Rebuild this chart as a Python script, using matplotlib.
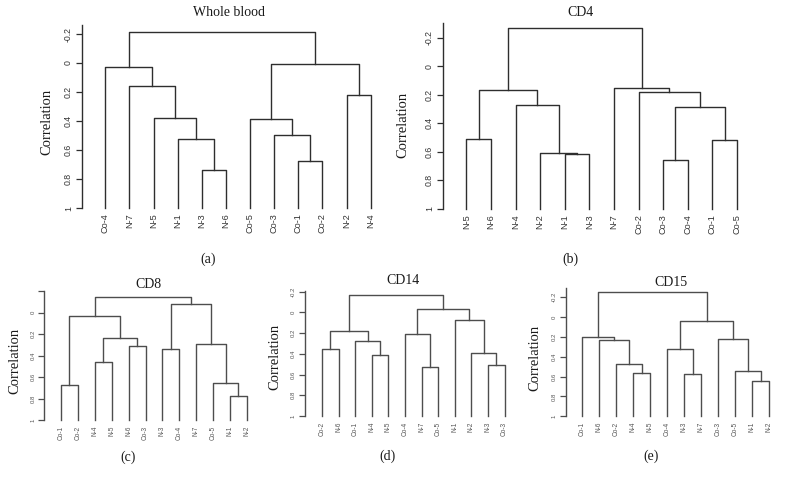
import matplotlib
matplotlib.use("Agg")
import matplotlib.pyplot as plt

plt.rcParams['axes.unicode_minus'] = False

# ---- data: leaf order, merges (leaf name or index of earlier merge), merge heights
wb_leaves = ["Co-4", "N-7", "N-5", "N-1", "N-3", "N-6", "Co-5", "Co-3", "Co-1", "Co-2", "N-2", "N-4"]
wb_merges = [("N-3", "N-6"), ("N-1", 0), ("N-5", 1), ("N-7", 2), ("Co-4", 3),
             ("Co-1", "Co-2"), ("Co-3", 5), ("Co-5", 6), ("N-2", "N-4"), (7, 8), (4, 9)]
wb_heights = [0.738, 0.526, 0.379, 0.159, 0.028, 0.676, 0.497, 0.386, 0.223, 0.005, -0.216]

cd4_leaves = ["N-5", "N-6", "N-4", "N-2", "N-1", "N-3", "N-7", "Co-2", "Co-3", "Co-4", "Co-1", "Co-5"]
cd4_merges = [("N-5", "N-6"), ("N-1", "N-3"), ("N-2", 1), ("N-4", 2), (0, 3),
              ("Co-3", "Co-4"), ("Co-1", "Co-5"), (5, 6), ("Co-2", 7), ("N-7", 8), (4, 9)]
cd4_heights = [0.509, 0.615, 0.608, 0.270, 0.164, 0.660, 0.519, 0.286, 0.183, 0.150, -0.265]

cd8_leaves = ["Co-1", "Co-2", "N-4", "N-5", "N-6", "Co-3", "N-3", "Co-4", "N-7", "Co-5", "N-1", "N-2"]
cd8_merges = [("Co-1", "Co-2"), ("N-4", "N-5"), ("N-6", "Co-3"), (1, 2), (0, 3),
              ("N-3", "Co-4"), ("N-1", "N-2"), ("Co-5", 6), ("N-7", 7), (5, 8), (4, 9)]
cd8_heights = [0.674, 0.463, 0.314, 0.239, 0.034, 0.342, 0.780, 0.658, 0.292, -0.078, -0.149]

cd14_leaves = ["Co-2", "N-6", "Co-1", "N-4", "N-5", "Co-4", "N-7", "Co-5", "N-1", "N-2", "N-3", "Co-3"]
cd14_merges = [("Co-2", "N-6"), ("N-4", "N-5"), ("Co-1", 1), (0, 2), ("N-7", "Co-5"),
               ("Co-4", 4), ("N-3", "Co-3"), ("N-2", 6), ("N-1", 7), (5, 8), (3, 9)]
cd14_heights = [0.354, 0.415, 0.280, 0.183, 0.524, 0.206, 0.511, 0.392, 0.077, -0.032, -0.164]

cd15_leaves = ["Co-1", "N-6", "Co-2", "N-4", "N-5", "Co-4", "N-3", "N-7", "Co-3", "Co-5", "N-1", "N-2"]
cd15_merges = [("N-4", "N-5"), ("Co-2", 0), ("N-6", 1), ("Co-1", 2), ("N-3", "N-7"),
               ("Co-4", 4), ("N-1", "N-2"), ("Co-5", 6), ("Co-3", 7), (5, 8), (3, 9)]
cd15_heights = [0.560, 0.477, 0.232, 0.205, 0.577, 0.319, 0.648, 0.544, 0.218, 0.040, -0.252]

y_ticks = [-0.2, 0, 0.2, 0.4, 0.6, 0.8, 1]
y_ticklabels = ["-0.2", "0", "0.2", "0.4", "0.6", "0.8", "1"]

W, H = 786, 483
fig = plt.figure(figsize=(W / 100, H / 100), dpi=100)
SANS = "Liberation Sans"
SERIF = "Liberation Serif"


def draw_dendro(ax, leaves, merges, heights, color):
    xpos = {name: i + 1 for i, name in enumerate(leaves)}
    node_x, node_h = [], []

    def get(c):
        if isinstance(c, str):
            return xpos[c], 1.0
        return node_x[c], node_h[c]

    for (a, b), h in zip(merges, heights):
        xa, ha = get(a)
        xb, hb = get(b)
        ax.plot([xa, xa, xb, xb], [ha, h, h, hb], color=color, lw=1.0, clip_on=False)
        node_x.append((xa + xb) / 2.0)
        node_h.append(h)


def panel(leaves, merges, heights, spine, leaf1, step, y1, ppu, top,
          title, title_xy, caption, cap_xy, ylab_xy, tick_fs, leaf_fs,
          color, txt_color, hide_top_label=False):
    # axes box in pixels -> figure fraction
    right = leaf1 + 12 * step
    ax = fig.add_axes([spine / W, 1 - y1 / H, (right - spine) / W, (y1 - top) / H])
    ax.set_xlim(1 - (leaf1 - spine) / step, 13)
    ax.set_ylim(1.0, 1.0 - (y1 - top) / ppu)
    draw_dendro(ax, leaves, merges, heights, color)

    for s in ["top", "right", "bottom"]:
        ax.spines[s].set_visible(False)
    ax.spines["left"].set_color(color)
    ax.spines["left"].set_linewidth(1.0)

    labels = list(y_ticklabels)
    if hide_top_label:
        labels[0] = ""
    ax.set_yticks(y_ticks)
    ax.set_yticklabels(labels, rotation=90, va="center", family=SANS,
                       fontsize=tick_fs, color=txt_color)
    ax.tick_params(axis="y", length=4, width=0.9, color=color, pad=2.5)

    ax.set_xticks(range(1, len(leaves) + 1))
    ax.set_xticklabels(leaves, rotation=90, family=SANS, fontsize=leaf_fs, color=txt_color)
    ax.tick_params(axis="x", length=0, pad=4)
    ax.patch.set_alpha(0)

    fig.text(title_xy[0] / W, 1 - title_xy[1] / H, title, family=SERIF, fontsize=10,
             ha="center", va="center", color="#1a1a1a")
    fig.text(cap_xy[0] / W, 1 - cap_xy[1] / H, caption, family=SERIF, fontsize=10,
             ha="center", va="center", color="#1a1a1a")
    fig.text(ylab_xy[0] / W, 1 - ylab_xy[1] / H, "Correlation", family=SERIF, fontsize=10.5,
             rotation=90, ha="center", va="center", color="#1a1a1a")


panel(wb_leaves, wb_merges, wb_heights, 82, 105.3, 24.13, 208, 145, 25,
      "Whole blood", (229, 12.5), "(a)", (208, 259), (47, 122), 6.3, 6.6,
      "#2e2e2e", "#333333")
panel(cd4_leaves, cd4_merges, cd4_heights, 443, 466.3, 24.6, 208.7, 142.5, 22.7,
      "CD4", (580, 12.5), "(b)", (570, 259), (403, 125), 6.3, 6.6,
      "#2e2e2e", "#333333")
panel(cd8_leaves, cd8_merges, cd8_heights, 44.3, 61, 16.9, 420, 107.3, 291.2,
      "CD8", (148.3, 285), "(c)", (127.7, 457.3), (15, 361), 4.3, 4.7,
      "#4d4d4d", "#555555", hide_top_label=True)
panel(cd14_leaves, cd14_merges, cd14_heights, 304.7, 322, 16.6, 416, 103.6, 291,
      "CD14", (402.7, 280.7), "(d)", (388, 456.7), (274.7, 356.7), 4.3, 4.7,
      "#4d4d4d", "#555555")
panel(cd15_leaves, cd15_merges, cd15_heights, 565.7, 582.3, 17, 416.3, 99.4, 287.7,
      "CD15", (670.7, 282.3), "(e)", (650.7, 456.7), (534.7, 357.7), 4.3, 4.7,
      "#4d4d4d", "#555555")

plt.savefig("out.png", dpi=100)
